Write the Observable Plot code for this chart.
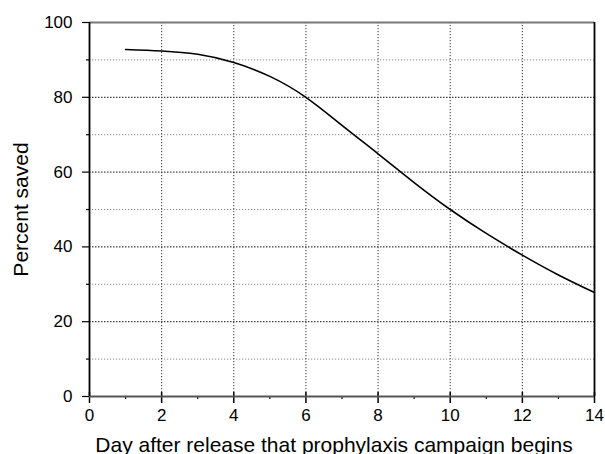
<!DOCTYPE html>
<html>
<head>
<meta charset="utf-8">
<script src="https://cdn.jsdelivr.net/npm/d3@7"></script>
<script src="https://cdn.jsdelivr.net/npm/@observablehq/plot@0.6"></script>
<style>
  body { margin: 0; background: #fff; }
  #chart svg { display: block; font-family: "Liberation Sans", Arial, sans-serif; }
</style>
</head>
<body>
<div id="chart"></div>
<script>
const days = [1, 2, 3, 4, 5, 6, 7, 8, 9, 10, 11, 12, 13, 14];
const saved = [92.8, 92.4, 91.5, 89.3, 85.6, 80.0, 72.5, 64.9, 57.2, 50.0, 43.6, 37.8, 32.5, 27.8];
const xMajor = [0, 2, 4, 6, 8, 10, 12, 14];
const xMinor = [1, 3, 5, 7, 9, 11, 13];
const xGrid = [2, 4, 6, 8, 10, 12];
const yMajor = [0, 20, 40, 60, 80, 100];
const yMinor = [10, 30, 50, 70, 90];
const yGrid = [20, 40, 60, 80];
const xLabel = "Day after release that prophylaxis campaign begins";
const yLabel = "Percent saved";

const data = days.map((d, i) => ({day: d, saved: saved[i]}));
const noText = () => "";

const chart = Plot.plot({
  width: 605,
  height: 454,
  marginLeft: 89,
  marginRight: 11,
  marginTop: 22,
  marginBottom: 58,
  style: {fontSize: "17px", fontFamily: "'Liberation Sans', Arial, sans-serif", color: "#000"},
  x: {domain: [0, 14]},
  y: {domain: [0, 100]},
  marks: [
    Plot.ruleY(yMinor, {stroke: "#888", strokeDasharray: "1.2,1.8", strokeWidth: 1}),
    Plot.ruleY(yGrid, {stroke: "#111", strokeDasharray: "1.5,1.5", strokeWidth: 1}),
    Plot.ruleX(xGrid, {stroke: "#333", strokeDasharray: "1.2,1.8", strokeWidth: 1}),
    Plot.axisX({ticks: xMajor, tickSize: 7, tickPadding: 5, tickFormat: d3.format("d"), label: null, fontSize: 17, strokeWidth: 1.5}),
    Plot.axisX({ticks: xMajor, tickSize: -4, tickFormat: noText, label: null, strokeWidth: 1.5}),
    Plot.axisX({ticks: xMinor, tickSize: 3, tickFormat: noText, label: null, strokeWidth: 1.2}),
    Plot.axisY({ticks: yMajor, tickSize: 7, tickPadding: 10, tickFormat: d3.format("d"), label: null, fontSize: 17, strokeWidth: 1.2}),
    Plot.axisY({ticks: yMinor, tickSize: 3, tickFormat: noText, label: null, strokeWidth: 1.2}),
    Plot.text([xLabel], {frameAnchor: "bottom", textAnchor: "middle", dx: -8, dy: 55, lineAnchor: "bottom", fontSize: 21, fill: "#000", letterSpacing: "0.2px"}),
    Plot.text([yLabel], {frameAnchor: "left", textAnchor: "middle", dx: -62, rotate: -90, lineAnchor: "bottom", fontSize: 21, fill: "#000", letterSpacing: "0.6px"}),
    Plot.ruleY([0], {stroke: "#555", strokeWidth: 2}),
    Plot.ruleY([100], {stroke: "#777", strokeWidth: 2}),
    Plot.ruleX([0], {stroke: "#000", strokeWidth: 1.8}),
    Plot.ruleX([14], {stroke: "#000", strokeWidth: 1.8}),
    Plot.line(data, {x: "day", y: "saved", curve: "natural", stroke: "#000", strokeWidth: 1.6})
  ]
});
document.getElementById("chart").appendChild(chart);
</script>
</body>
</html>
